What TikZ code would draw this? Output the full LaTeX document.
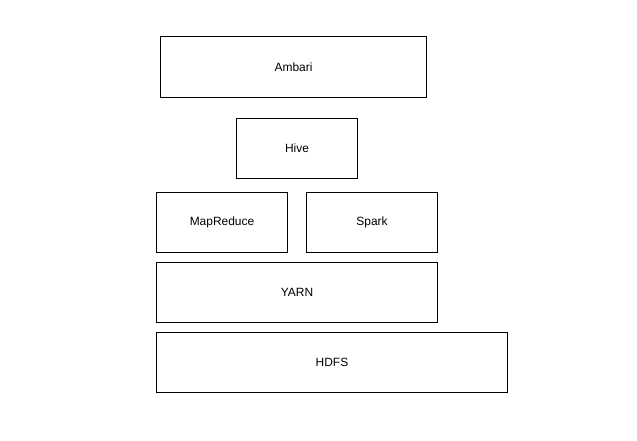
\documentclass[tikz,border=0pt]{standalone}
\usepackage{fontspec}
\setmainfont{Liberation Sans}
\usepackage{tikz}
\usetikzlibrary{positioning}

\begin{document}
\begin{tikzpicture}[x=0.025cm,y=-0.025cm,
		layer/.style={draw,line width=0.7pt,inner sep=0pt,minimum height=1.5cm,font=\fontsize{8.5}{10}\selectfont}]
		\useasboundingbox (0,0) rectangle (637,440);
		\node[layer,minimum width=6.625cm] (Ambari) at (293.5,67) {Ambari};
		\node[layer,minimum width=3cm] (Hive) at (297,148) {Hive};
		\node[layer,minimum width=3.25cm] (MapReduce) at (222,222) {MapReduce};
		\node[layer,minimum width=3.25cm] (Spark) at (372,222) {Spark};
		\node[layer,minimum width=7cm] (YARN) at (297,292) {YARN};
		\node[layer,minimum width=8.75cm] (HDFS) at (332,362) {HDFS};
	\end{tikzpicture}
\end{document}
